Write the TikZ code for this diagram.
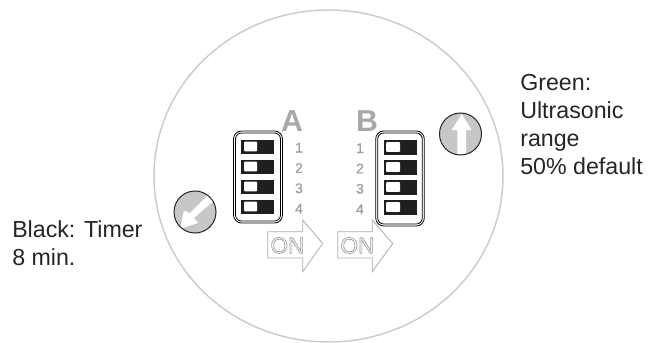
\documentclass[tikz,border=0pt]{standalone}
\usepackage{fontspec}
\setmainfont{Liberation Sans}
\newfontfamily\medfont[FakeBold=0.6]{Liberation Sans}
\newfontfamily\heavyfont{Liberation Sans Bold}
\definecolor{ringgray}{gray}{0.8}
\definecolor{labelgray}{gray}{0.62}
\definecolor{knobgray}{gray}{0.78}
\definecolor{swblack}{gray}{0.12}
\newcommand{\outlinetext}[1]{\special{pdf:literal q 1 Tr 0.5 w 0.6 0.6 0.6 RG}#1\special{pdf:literal Q}}
\tikzset{
  x=0.75pt,y=-0.75pt,
  ring/.style={draw=ringgray,line width=1.1pt,fill=white},
  caseouter/.style={draw=black,line width=0.6pt,rounded corners=6pt},
  swbody/.style={fill=swblack,draw=none},
  swslider/.style={fill=white,draw=none,rounded corners=0.6pt},
  knob/.style={circle,fill=knobgray,minimum size=31.5pt,inner sep=0pt},
  knobring/.style={circle,draw=black!85,line width=0.75pt,minimum size=31.5pt,inner sep=0pt},
  knobarrow/.style={fill=white,draw=none},
  numlabel/.style={text=labelgray,font=\medfont\fontsize{10.5}{11}\selectfont,inner sep=0pt},
  letterlabel/.style={text=labelgray!90,font=\heavyfont\fontsize{22.7}{26}\selectfont,inner sep=0pt},
  caption/.style={text=black!85,font=\fontsize{17.4}{21}\selectfont,align=left,anchor=north west,inner sep=0pt},
  onarrow/.style={draw=black!32,line width=0.6pt,fill=white,line join=miter},
  ontext/.style={font=\fontsize{17}{17}\selectfont,inner sep=0pt}
}
\begin{document}
\begin{tikzpicture}
\useasboundingbox (0,0) rectangle (648,342);
\clip (0,0) rectangle (648,342);
\fill[white] (0,0) rectangle (648,342);
\coordinate (ringc) at (328.5,176);
\draw[ring] (ringc) ellipse[x radius=174.5,y radius=166];
% labels
\node[letterlabel] (letA) at (292,120.8) {A};
\node[letterlabel] (letB) at (367,120.8) {B};
% switch A
\draw[caseouter] (233.5,131) rectangle (282.5,223);
\draw[caseouter,rounded corners=4.5pt] (235.5,133) rectangle (280.5,221);
\foreach \yy in {139.5,159.5,179.5,199.5}{
  \fill[swbody] (241,\yy) rectangle (274,\yy+14.5);
  \fill[swslider] (244,\yy+2.2) rectangle (257,\yy+11.8);
}
\foreach \n/\yy in {1/147.7,2/168,3/188.3,4/208.8}{
  \node[numlabel] (a\n) at (299,\yy) {\n};
  \node[numlabel] (b\n) at (360,\yy+0.5) {\n};
}
% switch B
\draw[caseouter] (375.7,131) rectangle (424.3,226);
\draw[caseouter,rounded corners=4.5pt] (377.7,133) rectangle (422.3,224);
\foreach \yy in {140,160,180,200}{
  \fill[swbody] (383.7,\yy) rectangle (417,\yy+14.5);
  \fill[swslider] (386,\yy+2.2) rectangle (400,\yy+11.8);
}
% ON arrows
\draw[onarrow] (267.7,231.7) -- (302.7,231.7) -- (302.7,220) -- (322.7,243.5) -- (302.7,271.7) -- (302.7,258) -- (267.7,258) -- cycle;
\draw[onarrow] (337.7,231.7) -- (372.3,231.7) -- (372.3,220) -- (392.7,243.5) -- (372.3,271.7) -- (372.3,258) -- (337.7,258) -- cycle;
\node[ontext] (onA) at (287.5,245.5) {\outlinetext{ON}};
\node[ontext] (onB) at (357.5,245.5) {\outlinetext{ON}};
% knobs
\node[knob] (knobR) at (460.5,134) {};
\fill[knobarrow] (461.7,114) -- (471.7,130) -- (466,130) -- (466,154.5) -- (457.3,154.5) -- (457.3,130) -- (451.7,130) -- cycle;
\node[knobring] (knobRr) at (460.5,134) {};
\node[knob] (knobL) at (195,212) {};
\begin{scope}
\clip (195,212) circle[radius=21];
\fill[knobarrow] (180,228.7) -- (184,210.7) -- (190,213) -- (208.3,194.7) -- (215,199.7) -- (194,218) -- (198.3,223) -- cycle;
\end{scope}
\node[knobring] (knobLr) at (195,212) {};
% captions
\node[caption] (capR) at (520,74) {Green:\\Ultrasonic\\range\\50\% default};
\node[caption] (capL) at (12,220) {Black: Timer\\8 min.};
\end{tikzpicture}
\end{document}
